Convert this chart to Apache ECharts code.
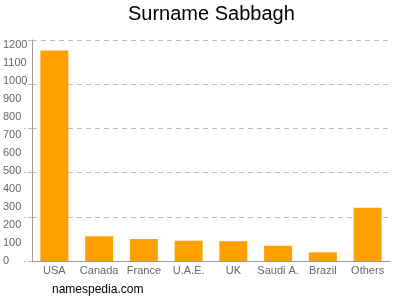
<!DOCTYPE html>
<html><head><meta charset="utf-8">
<script src="https://cdn.jsdelivr.net/npm/echarts@6/dist/echarts.min.js"></script>
<style>html,body{margin:0;padding:0;background:#fff}#c{width:400px;height:300px}</style>
</head><body><div id="c"></div>
<script>
var categories = ['USA','Canada','France','U.A.E.','UK','Saudi A.','Brazil','Others'];
var counts = [1170, 137, 122, 113, 110, 85, 48, 296];
var axisMax = 1228;
var chart = echarts.init(document.getElementById('c'), null, {renderer:'canvas'});
chart.setOption({
  animation: false,
  backgroundColor: '#fff',
  graphic: [
    {type: 'text', left: 128, top: 4, style: {text: 'Surname Sabbagh', font: '20px Liberation Sans, Arial', fill: '#000'}},
    {type: 'text', left: 52, top: 284, style: {text: 'namespedia.com', font: '12px Liberation Sans, Arial', fill: '#000'}}
  ],
  grid: {left: 31, right: 10, top: 40, bottom: 39},
  xAxis: {type: 'category', data: categories,
    axisLine: {lineStyle: {color: '#999'}}, axisTick: {show: false},
    axisLabel: {interval: 0, color: '#666', fontSize: 11, fontFamily: 'Liberation Sans, Arial', margin: 4}},
  yAxis: [
    {type: 'value', min: 0, max: axisMax, interval: 100,
     axisLine: {show: true, lineStyle: {color: '#999'}}, axisTick: {show: false}, splitLine: {show: false},
     axisLabel: {color: '#666', fontSize: 11, fontFamily: 'Liberation Sans, Arial', margin: 29, align: 'left',
       formatter: function(v){ return (v % 100 === 0) ? String(v) : ''; }}},
    {type: 'value', min: 0, max: axisMax, interval: axisMax / 5, position: 'left',
     axisLine: {show: false}, axisLabel: {show: false},
     axisTick: {show: true, length: 8, lineStyle: {color: '#bbb', type: 'dashed'}},
     splitLine: {show: true, lineStyle: {color: '#bbb', type: [5, 4]}}}
  ],
  series: [{type: 'bar', data: counts, yAxisIndex: 0, barWidth: 28,
    itemStyle: {color: '#ffa000'}}]
});
</script></body></html>
